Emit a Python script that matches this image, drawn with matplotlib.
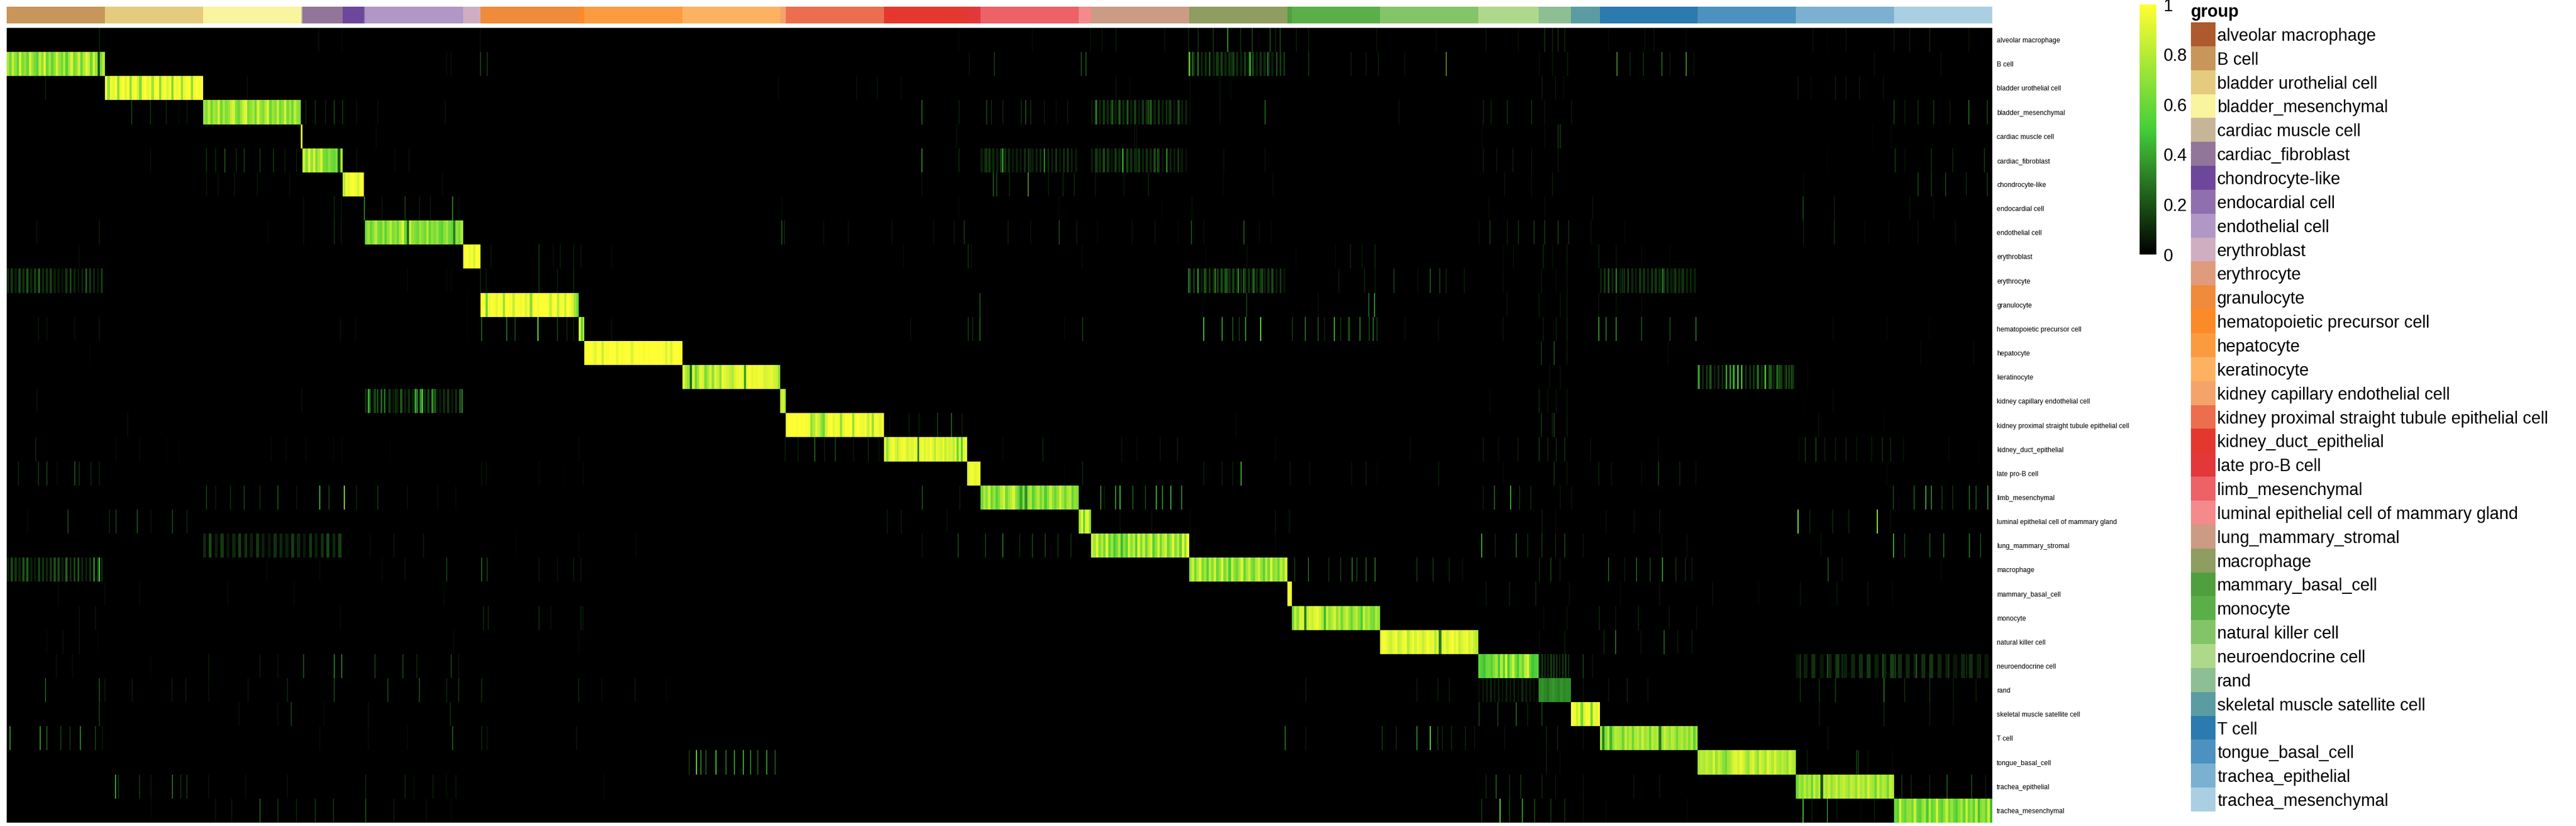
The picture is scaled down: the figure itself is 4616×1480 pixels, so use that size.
import numpy as np
import matplotlib
matplotlib.use("Agg")
import matplotlib.pyplot as plt
from matplotlib.colors import LinearSegmentedColormap

plt.rcParams['font.family'] = ['Liberation Sans', 'DejaVu Sans']

GROUPS = ["alveolar macrophage", "B cell", "bladder urothelial cell", "bladder_mesenchymal",
          "cardiac muscle cell", "cardiac_fibroblast", "chondrocyte-like", "endocardial cell",
          "endothelial cell", "erythroblast", "erythrocyte", "granulocyte",
          "hematopoietic precursor cell", "hepatocyte", "keratinocyte",
          "kidney capillary endothelial cell", "kidney proximal straight tubule epithelial cell",
          "kidney_duct_epithelial", "late pro-B cell", "limb_mesenchymal",
          "luminal epithelial cell of mammary gland", "lung_mammary_stromal", "macrophage",
          "mammary_basal_cell", "monocyte", "natural killer cell", "neuroendocrine cell", "rand",
          "skeletal muscle satellite cell", "T cell", "tongue_basal_cell", "trachea_epithelial",
          "trachea_mesenchymal"]
# columns per group
GROUP_CELLS = [0, 200, 200, 200, 3, 82, 43, 2, 200, 36, 0, 200, 11, 200, 200, 11, 200, 169, 28,
               200, 25, 200, 200, 9, 180, 200, 123, 66, 59, 200, 200, 200, 200]
GROUP_COLORS = ["#AD5A2E", "#C8955A", "#E5CB7E", "#F9F49E", "#C7B59A", "#927598", "#6E479A",
                "#8F6FAE", "#B097C6", "#CFAEC1", "#E09B7C", "#EF8B3B", "#FD8A28", "#FB9B40",
                "#FDB262", "#F4A369", "#EC6E4E", "#E4382F", "#E23839", "#EC6267", "#F48A8C",
                "#CB9B83", "#8F9D60", "#4F9F3E", "#5BAF48", "#84C468", "#AFD98A", "#8EBF94",
                "#5B9CA3", "#2B7AB0", "#4C91BF", "#7BB0D0", "#AACFE2"]
CBAR_TICKS = [0, 0.2, 0.4, 0.6, 0.8, 1]
CBAR_LABELS = ["0", "0.2", "0.4", "0.6", "0.8", "1"]

# diagonal blocks, in percent, left to right across each group
D_ALVEOLAR = []
D_BCELL = [78,62,85,70,58,90,66,72,60,88,74,64,55,82,68,92,60,76,58,70,88,72,62,80,55,75,90,64,70,86,58,78,92,84,60,88,72,20,65,80]
D_URO = [98,72,96,92,98,68,95,100,90,98,70,96,98,88,66,97,100,92,98,74,96,100,68,94,98,90,97,66,100,95,98,72,94,98,100,70,96,100,98,97]
D_BLAD_MES = [72,65,82,60,75,70,88,62,78,66,72,84,90,68,60,74,86,92,64,70,78,62,88,72,66,80,90,60,74,68,84,62,70,88,64,76,60,82,70,66]
D_CARD_MUSCLE = [92]
D_CARD_FIB = [85,68,92,72,88,66,78,90,64,60,70,62,58,66,20,75]
D_CHONDRO = [80,97,92,98,100,95,88,98,99]
D_ENDOCARD = [30]
D_ENDOTH = [62,72,58,68,80,64,60,75,55,70,82,66,72,60,78,92,58,25,85,70,66,60,74,68,62,80,58,70,64,72,60,55,68,76,62,58,30,70,64,78]
D_ERYBLAST = [97,100,95,98,88,100,98]
D_ERYCYTE = []
D_GRAN = [98,100,60,96,100,98,92,100,98,72,100,97,98,85,100,98,96,100,90,100,68,98,100,97,100,99,100,98,85,98,100,82,96,98,85,100,96,90,75,60]
D_HEMATO = [90,55,75]
D_HEP = [98,99,100,98,92,100,99,85,100,98,100,99,100,92,100,97,99,100,100,90,99,100,99,100,98,100,99,100,100,100,99,100,98,90,100,88,99,100,99,98]
D_KER = [92,80,70,25,88,60,75,92,88,65,78,90,70,92,85,70,96,92,88,84,78,90,94,96,94,40,95,98,92,96,94,97,95,88,90,92,94,88,85,70]
D_KCAP = [82,88,78]
D_PROX = [98,100,99,100,98,100,99,100,98,96,70,80,92,85,70,60,88,98,99,92,98,96,70,94,99,98,100,72,98,100,96,95,98,85,96,72,98,96,92,98]
D_DUCT = [92,70,88,94,98,90,82,92,96,98,92,88,94,90,96,92,30,94,98,90,96,92,98,90,80,94,92,88,96,84,92,88,90,82,94,60,90,50,92,96]
D_LATE = [90,96,98,92,94,96]
D_LIMB = [60,78,68,85,60,72,55,66,80,88,62,74,82,90,70,60,40,65,35,72,78,55,70,80,62,75,50,68,84,70,60,72,88,74,60,76,80,58,70,66]
D_LUMINAL = [75,92,55,88,95,70]
D_LUNG = [85,75,92,68,80,62,90,58,72,50,62,78,45,68,55,88,70,82,55,90,66,85,60,78,88,52,70,90,62,80,88,60,74,92,68,82,58,94,70,96]
D_MAC = [70,85,62,78,90,65,74,55,82,68,88,60,72,92,64,78,50,85,70,62,76,90,58,74,84,66,60,78,88,70,56,80,64,92,68,74,60,82,70,88]
D_MAMMARY = [98,95]
D_MONO = [60,85,70,90,88,30,82,90,85,92,95,88,78,45,85,72,80,88,70,82,64,78,85,72,60,75,82,68,50,85,72,78,65,62,78,70]
D_NK = [92,98,96,90,86,92,96,84,88,95,98,80,90,96,88,96,92,84,90,98,92,94,80,90,30,90,96,88,94,98,90,96,84,90,94,96,88,92,84,80]
D_NEURO = [58,52,48,60,62,54,66,75,50,80,55,88,50,70,85,62,50,72,60,82,90,60,48,52,55]
D_RAND = [34,36,33,30,35,37,34,32,36,33,35,34]
D_SKEL = [98,96,85,95,62,90,98,96,60,95,92,98]
D_TCELL = [72,30,65,80,45,70,82,78,75,60,84,72,80,60,78,82,70,85,72,78,60,82,76,80,30,72,85,78,70,82,76,62,75,80,70,78,66,80,55,72]
D_TONGUE = [76,82,78,85,80,76,90,72,84,78,68,62,75,80,90,92,86,94,88,80,72,85,90,78,70,88,82,76,92,85,78,90,80,75,82,78,70,86,80,76]
D_TR_EPI = [60,75,68,82,70,78,60,85,72,80,20,82,76,84,70,78,86,72,80,85,78,72,84,80,70,86,76,82,72,88,78,74,60,84,70,80,76,62,84,80]
D_TR_MES = [60,55,88,65,58,70,72,62,85,60,55,70,78,50,80,58,65,88,62,55,70,84,62,72,60,52,68,78,58,85,62,70,56,82,48,68,72,58,85,45]

# thin off-diagonal stripes per row: (column, percent)
S_ALVEOLAR = [(188,8),(635,4),(682,4),(964,6),(1940,3),(2090,3),(2208,4),(2232,4),(2260,6),(2359,4),(2408,8),(2427,10),(2458,12),(2488,35),(2514,10),(2538,15),(2574,18),(2585,12),(2595,15),(2628,6),(2653,6),(2791,4),(2913,3),(3014,4),(3080,4),(3134,10),(3150,8),(3161,10),(3175,8),(3264,4),(3338,6),(3357,4),(3422,4),(3681,4),(3710,3),(3748,4),(3846,6),(3878,6),(3919,8),(3998,4)]
S_BCELL = [(896,6),(905,6),(965,15),(978,12),(1961,5),(2012,12),(2189,30),(2199,18),(2409,65),(2416,25),(2427,30),(2451,12),(2465,15),(2495,20),(2533,55),(2569,40),(2588,22),(2603,15),(2653,12),(2739,6),(2770,6),(2795,6),(2848,4),(2933,75),(3123,6),(3150,5),(3180,6),(3281,60),(3308,8),(3335,10),(3373,22),(3389,10),(3422,65),(3438,8),(3806,4),(3941,4)]
S_URO = [(78,12),(489,4),(1572,3),(1731,4),(1773,5),(1822,3),(2260,4),(2288,4),(2411,6),(2472,4),(2494,4),(3128,6),(3156,8),(3172,5),(3650,6),(3677,5),(3726,6),(3748,5),(3775,5),(3824,4)]
S_BLAD_MES = [(254,14),(292,18),(324,8),(350,5),(366,6),(609,8),(628,10),(649,12),(667,14),(684,12),(712,4),(755,4),(893,5),(1864,22),(1940,12),(1996,15),(2006,14),(2029,8),(2067,10),(2076,18),(2086,10),(2114,10),(2138,6),(2161,6),(2220,30),(2253,22),(2284,25),(2326,20),(2340,10),(2354,12),(2368,12),(2389,15),(2411,6),(2472,4),(2564,22),(2837,4),(3009,8),(3025,8),(3058,10),(3107,18),(3134,5),(3188,5),(3846,14),(3868,10),(3895,10),(3927,12),(3960,10),(3998,22),(4036,14)]
S_CARD_MUSCLE = [(752,3),(1935,4),(2298,5),(2302,4),(3161,12),(3166,12),(3006,3),(3134,3),(3802,3),(3840,3)]
S_CARD_FIB = [(292,7),(406,10),(425,14),(444,18),(467,14),(483,22),(515,12),(543,12),(566,10),(590,10),(712,4),(790,4),(819,4),(1864,30),(1940,15),(1997,18),(2029,40),(2057,8),(2086,12),(2114,40),(2138,18),(2161,15),(2180,8),(2222,15),(2246,14),(2274,45),(2302,10),(2345,30),(2364,35),(2392,6),(2480,4),(2564,5),(3009,6),(3036,6),(3069,6),(3107,8),(3161,5),(3710,3),(3848,12),(3868,6),(3922,10),(3965,8),(4030,12)]
S_CHONDRO = [(406,5),(430,4),(463,5),(510,5),(576,4),(887,3),(1864,4),(2010,20),(2017,15),(2081,70),(2043,8),(2123,6),(2152,8),(2175,8),(2218,5),(2276,5),(2326,8),(2478,4),(2580,3),(3052,4),(3107,6),(3150,6),(3661,4),(3895,15),(3922,12),(3951,25),(3993,14),(4036,12)]
S_ENDOCARD = [(764,8),(811,14),(840,10),(863,10),(908,30),(604,4),(667,8),(681,8),(920,4),(1579,3),(1940,3),(2144,3),(2354,3),(2415,4),(3020,3),(3134,3),(3232,4),(3660,15),(3724,6),(3878,4),(3927,3)]
S_ENDOTH = [(60,5),(188,6),(532,4),(604,4),(667,10),(681,10),(1579,18),(1584,14),(1664,4),(1714,4),(1803,4),(1888,4),(1930,5),(1951,12),(2040,12),(2086,4),(2144,16),(2180,10),(2222,4),(2293,4),(2340,4),(2387,4),(2414,18),(2439,4),(2521,20),(2552,5),(2576,4),(3000,6),(3022,12),(3058,6),(3080,10),(3112,12),(3134,12),(3161,14),(3183,10),(3228,4),(3297,4),(3661,12),(3724,10),(3786,4),(3835,5),(3895,4),(3971,4)]
S_ERYBLAST = [(147,3),(967,5),(986,5),(1084,12),(1113,6),(1127,6),(1155,6),(1169,5),(1232,3),(1827,3),(1959,10),(1965,8),(2191,3),(2444,3),(2527,6),(2627,3),(2707,3),(2738,8),(2762,5),(2788,8),(3049,4),(3070,4),(3131,14),(3149,6),(3179,6),(3244,8),(3279,4),(3331,4),(3389,4)]
S_ERYCYTE = [(816,3),(896,4),(905,5),(965,8),(976,6),(1084,12),(1122,6),(1155,8),(2408,30),(2427,35),(2440,20),(2462,60),(2487,22),(2509,35),(2520,40),(2541,30),(2558,22),(2596,15),(2714,6),(2766,8),(2788,6),(2827,14),(2875,7),(2901,20),(2920,14),(2933,14),(2970,6),(3049,5),(3127,5),(3157,5),(3179,5),(3263,20),(3279,30),(3292,14),(3314,10),(3335,14),(3353,15),(3374,28),(3396,12),(3413,14),(3431,10)]
S_GRAN = [(938,3),(1983,18),(2437,4),(2526,14),(2672,4),(2775,30),(2776,15),(2787,35),(3057,8),(3122,6),(3166,5),(3179,6),(3244,5),(3279,4),(3331,4)]
S_HEMATO = [(64,5),(81,5),(138,4),(188,5),(679,4),(710,3),(938,3),(967,22),(1018,25),(1035,16),(1082,60),(1122,14),(1141,8),(1155,6),(1232,4),(1842,4),(1959,12),(1968,10),(1983,22),(2155,4),(2192,12),(2439,45),(2476,35),(2498,18),(2511,20),(2524,35),(2555,60),(2620,12),(2646,25),(2672,18),(2685,12),(2705,40),(2718,18),(2733,14),(2736,20),(2757,28),(2776,25),(2784,45),(2792,25),(2849,4),(2918,4),(3049,8),(3131,10),(3157,10),(3179,8),(3244,35),(3259,25),(3279,30),(3331,30),(3389,30),(3442,25),(3722,3),(3831,3),(3918,3)]
S_HEP = [(169,3),(3127,12),(3153,18),(3179,6),(3385,3),(3900,3),(4008,4)]
S_KER = [(3144,4),(3166,4),(3448,40),(3470,22),(3487,14),(3505,40),(3518,45),(3527,55),(3535,55),(3553,20),(3570,14),(3583,60),(3596,22),(3613,22),(3626,20),(3637,30),(3670,4)]
S_KCAP = [(60,4),(601,4),(736,45),(750,25),(769,30),(792,14),(811,10),(832,45),(846,55),(858,20),(872,50),(889,14),(915,15),(927,35),(3022,3),(3122,8),(3140,8),(3157,8),(3179,5),(3661,3),(3722,3)]
S_PROX = [(246,4),(1799,6),(1838,6),(1859,6),(1896,14),(1925,22),(1946,6),(2505,3),(3127,12),(3149,12),(3153,14),(3179,6),(3692,4),(3826,3)]
S_DUCT = [(58,8),(222,3),(270,3),(326,3),(350,3),(538,3),(569,3),(609,3),(665,4),(682,4),(781,3),(1165,3),(1586,6),(1612,6),(1646,22),(1666,10),(1688,15),(1725,8),(1755,8),(1777,5),(2029,3),(2111,8),(2272,5),(2303,5),(2350,5),(2385,6),(2585,4),(2860,3),(3009,6),(3040,6),(3079,6),(3122,12),(3140,14),(3157,14),(3175,10),(3227,4),(3366,3),(3652,6),(3665,12),(3687,14),(3705,6),(3726,6),(3748,8),(3770,5),(3800,6),(3822,10),(3839,8),(3865,4),(3957,3),(4018,3)]
S_LATE = [(23,8),(64,12),(81,14),(102,5),(138,18),(147,10),(171,8),(188,6),(967,5),(976,4),(1084,3),(1136,3),(1174,3),(2155,3),(2192,8),(2439,6),(2476,6),(2498,6),(2515,40),(2615,5),(2655,4),(2740,4),(2770,6),(2792,4),(2918,6),(3049,4),(3153,10),(3179,5),(3244,6),(3270,5),(3331,5),(3366,14),(3409,8),(3442,4),(3831,3)]
S_LIMB = [(406,14),(425,10),(455,10),(483,25),(515,10),(552,18),(590,8),(637,40),(656,25),(687,65),(712,8),(755,12),(816,4),(877,3),(915,3),(1865,30),(1942,6),(2229,55),(2237,10),(2259,35),(2268,45),(2294,20),(2320,25),(2342,40),(2355,30),(2372,40),(2394,55),(3009,6),(3031,22),(3064,40),(3083,10),(3105,8),(3166,5),(3188,4),(3844,25),(3887,20),(3911,40),(3922,30),(3944,12),(3965,10),(3999,22),(4013,18),(4037,30)]
S_LUMINAL = [(41,3),(124,16),(208,8),(222,14),(265,18),(293,8),(337,16),(366,8),(1794,6),(1822,6),(1916,4),(2268,4),(2333,4),(2411,4),(2585,8),(2613,4),(2614,4),(3128,6),(3156,5),(3259,4),(3316,4),(3368,6),(3650,65),(3674,8),(3721,8),(3754,8),(3812,70),(3839,4)]
S_LUNG = [(740,5),(788,5),(849,6),(1037,3),(1165,3),(1282,3),(1865,8),(1938,15),(1994,14),(2029,25),(2064,14),(2090,15),(2116,15),(2142,10),(2168,10),(2420,5),(2585,4),(3005,40),(3033,12),(3076,22),(3099,15),(3128,12),(3156,15),(3175,15),(3212,5),(3372,6),(3424,4),(3697,4),(3845,40),(3867,14),(3919,18),(3947,22),(3999,25),(4022,16)]
S_MAC = [(188,50),(529,3),(637,3),(764,5),(811,5),(896,25),(967,22),(978,14),(1084,5),(1122,4),(1155,6),(1169,5),(2624,12),(2652,40),(2694,10),(2718,22),(2741,25),(2751,25),(2770,20),(2788,25),(2873,12),(2906,12),(2939,8),(2967,4),(3123,14),(3146,14),(3165,10),(3264,35),(3297,10),(3321,35),(3349,14),(3374,35),(3401,10),(3420,8),(3434,6),(3712,18),(3740,5),(3942,5)]
S_MAMMARY = [(105,3),(199,3),(270,3),(449,3),(585,3),(891,3),(3014,5),(3062,6),(3116,8),(3184,4),(3288,4),(3368,5),(3476,4),(3570,4),(3655,5),(3730,5),(3792,5),(3843,4)]
S_MONO = [(147,4),(180,5),(679,3),(971,14),(981,8),(1084,10),(1108,4),(1169,8),(1174,5),(3132,5),(3179,5),(3245,8),(3278,5),(3325,8),(3387,5),(3443,4)]
S_NK = [(81,3),(114,4),(147,4),(185,3),(910,3),(1165,3),(3123,6),(3175,6),(3255,14),(3278,25),(3330,8),(3377,22),(3405,10),(3434,6)]
S_NEURO = [(100,4),(133,3),(293,3),(411,6),(515,6),(552,5),(604,18),(667,28),(682,55),(750,14),(807,16),(835,8),(905,25),(920,5),(3212,14),(3231,8),(3655,15),(3679,10),(3710,30),(3740,14),(3778,12),(3823,22),(3848,18),(3891,22),(3919,12),(3957,15),(3994,10),(4022,10)]
S_RAND = [(78,35),(188,18),(199,6),(255,6),(336,6),(364,6),(411,5),(491,8),(571,8),(667,14),(776,15),(840,30),(896,14),(920,12),(967,10),(1165,8),(1212,6),(1280,6),(1344,4),(2647,6),(2873,6),(2916,12),(2939,6),(3212,5),(3264,8),(3302,8),(3344,5),(3655,10),(3693,10),(3726,14),(3825,25),(3867,10),(3919,10),(3966,6),(4013,6)]
S_SKEL = [(188,14),(472,4),(552,4),(579,14),(646,3),(736,5),(903,10),(3000,25),(3038,14),(3076,22),(3099,12),(3128,14),(3693,5),(3825,8),(3919,6),(3966,4)]
S_TCELL = [(6,35),(67,35),(81,20),(109,14),(128,18),(149,30),(180,14),(194,10),(637,3),(736,3),(816,3),(908,20),(967,8),(978,5),(1160,5),(2605,25),(2647,5),(2803,12),(2831,8),(2873,30),(2901,55),(2916,20),(2925,14),(2944,8),(2972,8),(2991,8),(3052,4),(3137,8),(3160,8),(3212,4),(3712,4)]
S_TONGUE = [(1390,12),(1405,60),(1414,30),(1424,20),(1445,45),(1465,25),(1482,35),(1500,40),(1515,30),(1530,20),(1548,35),(1565,20),(3137,6),(3165,5),(3669,10),(3770,14),(3773,14),(3792,4),(3843,4)]
S_TR_EPI = [(221,40),(227,20),(270,12),(293,10),(337,25),(354,10),(366,12),(411,4),(486,4),(571,4),(731,14),(811,8),(830,5),(868,6),(896,6),(915,5),(1216,3),(3014,8),(3035,20),(3062,10),(3085,12),(3128,8),(3156,8),(3212,4),(3316,5),(3368,5),(3862,12),(3881,8),(3919,8),(3954,20),(4004,16),(4032,6)]
S_TR_MES = [(293,4),(425,8),(458,10),(515,20),(552,12),(590,12),(628,12),(665,20),(731,30),(788,6),(854,4),(905,4),(3005,12),(3043,55),(3062,14),(3088,35),(3113,15),(3146,12),(3175,10),(3212,5),(3259,3),(3424,3),(3660,45),(3679,6),(3710,50),(3730,5),(3778,5),(3806,6)]

# wider dim regions: (row name, first column, columns per value, percent values)
DIM_BANDS = [
    ("erythrocyte", 0, 8, [10,14,8,18,12,20,9,15,22,10,12,16,8,7,5,14,18,10,6,8,22,15,10,6,16]),
    ("macrophage", 0, 8, [8,18,14,10,20,22,8,6,16,12,9,14,20,18,8,24,12,18,22,10,8,14,30,16,10]),
    ("lung_mammary_stromal", 400, 12, [10,18,8,14,6,10,16,12,8,14,8,6,12,10,8,16,10,6,14,8,12,18,10,16]),
    ("neuroendocrine cell", 3122, 6, [12,14,10,12,16,14,12,10,12,14,12]),
    ("neuroendocrine cell", 3647, 16, [6,8,12,6,10,14,8,10,12,14,8,10,16,12,10,8,12,14,10,8,6,10,12,8,6]),
    ("rand", 2999, 8, [4,6,8,10,6,8,5,9,6,8,5,10,7,6,4]),
    ("kidney capillary endothelial cell", 730, 8, [12,30,8,18,25,10,14,6,8,22,5,12,8,30,35,10,12,35,8,6,10,14,8,6,22]),
    ("keratinocyte", 3447, 8, [30,10,14,20,8,12,10,30,35,30,25,10,12,8,14,25,10,14,20,8,25,14,8,14,12]),
    ("bladder_mesenchymal", 2210, 8, [6,22,8,14,10,16,8,20,10,12,8,16,6,14,12,22,8,16,8,12,14,6,18,8,10]),
    ("cardiac_fibroblast", 1985, 8, [8,12,14,10,8,15,12,10,6,8,6,12,14,8,10,12,18,10,8,12,6,12,14,8,6]),
    ("cardiac_fibroblast", 2210, 8, [8,14,10,18,12,6,14,10,8,16,12,10,14,8,12,10,18,14,6,12,10,8,14,6,4]),
    ("B cell", 2410, 8, [18,12,14,10,12,20,8,14,16,10,12,16,10,8,14,12,16,8,12,10,14,8,6,14,8]),
    ("erythrocyte", 2410, 8, [16,14,20,8,18,15,10,14,18,20,12,16,10,8,14,12,16,10,14,8,12,18,8,10,6]),
    ("erythrocyte", 3247, 8, [8,14,20,10,14,8,12,16,10,8,14,12,8,10,14,10,18,12,8,14,10,12,8,6,8]),
]

ROW_DIAG = [D_ALVEOLAR, D_BCELL, D_URO, D_BLAD_MES, D_CARD_MUSCLE, D_CARD_FIB, D_CHONDRO, D_ENDOCARD,
            D_ENDOTH, D_ERYBLAST, D_ERYCYTE, D_GRAN, D_HEMATO, D_HEP, D_KER, D_KCAP, D_PROX, D_DUCT,
            D_LATE, D_LIMB, D_LUMINAL, D_LUNG, D_MAC, D_MAMMARY, D_MONO, D_NK, D_NEURO, D_RAND,
            D_SKEL, D_TCELL, D_TONGUE, D_TR_EPI, D_TR_MES]
ROW_SPIKES = [S_ALVEOLAR, S_BCELL, S_URO, S_BLAD_MES, S_CARD_MUSCLE, S_CARD_FIB, S_CHONDRO, S_ENDOCARD,
              S_ENDOTH, S_ERYBLAST, S_ERYCYTE, S_GRAN, S_HEMATO, S_HEP, S_KER, S_KCAP, S_PROX, S_DUCT,
              S_LATE, S_LIMB, S_LUMINAL, S_LUNG, S_MAC, S_MAMMARY, S_MONO, S_NK, S_NEURO, S_RAND,
              S_SKEL, S_TCELL, S_TONGUE, S_TR_EPI, S_TR_MES]

W, H = 4616, 1480


def px_axes(fig, left, top, right, bottom):
    return fig.add_axes([left / W, 1 - bottom / H, (right - left) / W, (bottom - top) / H])


# Build the cells x groups matrix
n_cols = sum(GROUP_CELLS)
mat = np.zeros((len(GROUPS), n_cols))
starts = np.cumsum([0] + GROUP_CELLS[:-1])

for row, name in enumerate(GROUPS):
    for col, pct in ROW_SPIKES[row]:
        mat[row, col:col + 2] = np.maximum(mat[row, col:col + 2], pct / 100)
for name, first, step, vals in DIM_BANDS:
    row = GROUPS.index(name)
    # each value is a thin stripe, the gap between stripes stays dark
    for i, pct in enumerate(vals):
        c = first + i * step
        mat[row, c:c + max(3, step // 2)] = np.maximum(mat[row, c:c + max(3, step // 2)], pct / 100)
for row, vals in enumerate(ROW_DIAG):
    if GROUP_CELLS[row] == 0:
        continue
    idx = (np.arange(GROUP_CELLS[row]) * len(vals)) // GROUP_CELLS[row]
    mat[row, starts[row]:starts[row] + GROUP_CELLS[row]] = np.array(vals)[idx] / 100

cmap = LinearSegmentedColormap.from_list("expr", ["#000000", "#45CE3A", "#FFFF33"])

fig = plt.figure(figsize=(W / 100, H / 100), dpi=100, facecolor='white')

# top annotation bar
ax_top = px_axes(fig, 12, 12, 3570, 42)
ax_top.bar(starts, [1] * len(GROUPS), width=GROUP_CELLS, color=GROUP_COLORS, align='edge', linewidth=0)
ax_top.set_xlim(0, n_cols)
ax_top.set_ylim(0, 1)
ax_top.axis('off')

# main heatmap
ax = px_axes(fig, 12, 50, 3570, 1474)
ax.imshow(mat, cmap=cmap, vmin=0, vmax=1, aspect='auto', interpolation='nearest',
          extent=(0, n_cols, len(GROUPS), 0))
ax.set_xticks([])
ax.yaxis.tick_right()
ax.set_yticks(np.arange(len(GROUPS)) + 0.5)
ax.set_yticklabels(GROUPS, fontsize=8.7)
ax.tick_params(axis='y', length=0, pad=5.8)
for s in ax.spines.values():
    s.set_visible(False)

# colour bar
ax_cb = px_axes(fig, 3834, 8, 3864, 456)
ax_cb.imshow(np.linspace(1, 0, 256)[:, None], cmap=cmap, vmin=0, vmax=1, aspect='auto',
             extent=(0, 1, 0, 1))
ax_cb.set_xticks([])
ax_cb.yaxis.tick_right()
ax_cb.set_yticks(CBAR_TICKS)
ax_cb.set_yticklabels(CBAR_LABELS, fontsize=22)
ax_cb.tick_params(axis='y', length=0, pad=9.4)
for s in ax_cb.spines.values():
    s.set_visible(False)

# legend
ax_leg = px_axes(fig, 3926, 40, 3970, 1454)
ax_leg.barh(np.arange(len(GROUPS)) + 0.5, [1] * len(GROUPS), height=1, color=GROUP_COLORS, linewidth=0)
ax_leg.set_xlim(0, 1)
ax_leg.set_ylim(len(GROUPS), 0)
ax_leg.set_xticks([])
ax_leg.yaxis.tick_right()
ax_leg.set_yticks(np.arange(len(GROUPS)) + 0.5)
ax_leg.set_yticklabels(GROUPS, fontsize=22)
ax_leg.tick_params(axis='y', length=0, pad=2.2)
for s in ax_leg.spines.values():
    s.set_visible(False)
fig.text(3926 / W, 1 - 22 / H, "group", fontsize=22, fontweight='bold', ha='left', va='center')

fig.savefig("out.png", dpi=100, facecolor='white')
